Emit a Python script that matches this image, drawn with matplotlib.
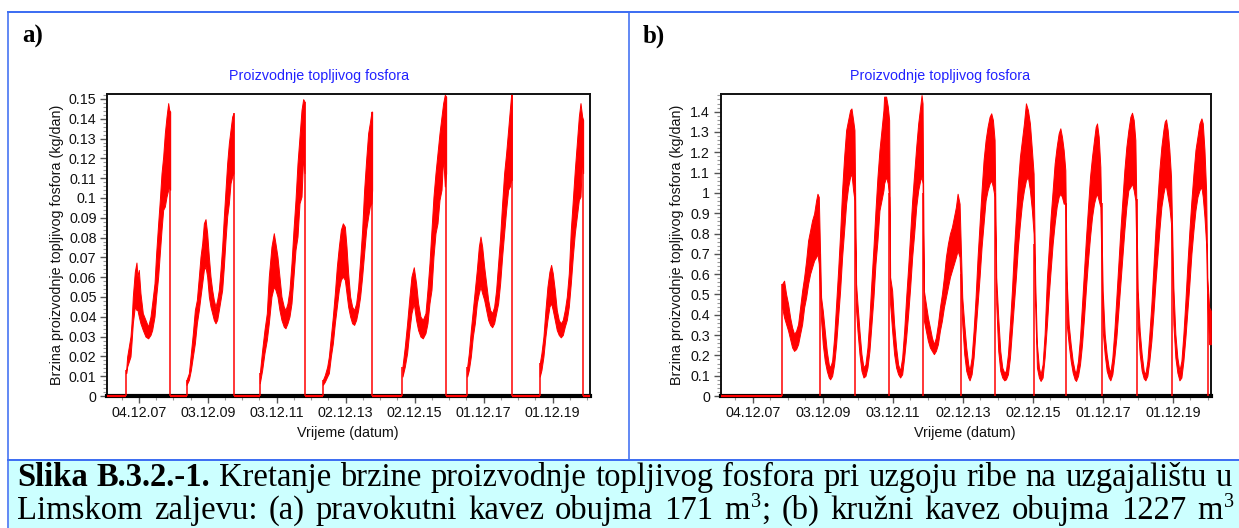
import datetime as dt
import numpy as np
import matplotlib
matplotlib.use("Agg")
import matplotlib.pyplot as plt
import matplotlib.dates as mdates
from matplotlib.ticker import FixedLocator, FixedFormatter, MultipleLocator, FuncFormatter
from matplotlib.lines import Line2D
from matplotlib.patches import Rectangle

plt.rcParams["font.family"] = ["Liberation Sans", "DejaVu Sans"]
SERIF = ["Liberation Serif", "DejaVu Serif"]

FIG_W, FIG_H = 1239, 528

# ---------------------------------------------------------------- data
# time in decimal years, production rate in kg/day
TIME_RANGE = (2007.0, 2021.0)
TICK_LABELS = ["04.12.07", "03.12.09", "03.12.11", "02.12.13",
               "02.12.15", "01.12.17", "01.12.19"]
TITLE = "Proizvodnje topljivog fosfora"
Y_LABEL = "Brzina proizvodnje topljivog fosfora (kg/dan)"
X_LABEL = "Vrijeme (datum)"

# (a) rectangular cage: one growing cycle per farming period (lower/upper band)
a1_t = [2007.556, 2007.585, 2007.681, 2007.710, 2007.749, 2007.807, 2007.855, 2007.884, 2007.923,
        2007.971, 2008.039, 2008.116, 2008.193, 2008.261, 2008.309, 2008.377, 2008.425, 2008.483,
        2008.531, 2008.580, 2008.628, 2008.676, 2008.725, 2008.773, 2008.802, 2008.831]
a1_hi = [0.0131, 0.0199, 0.0300, 0.0367, 0.0502, 0.0628, 0.0674, 0.0603, 0.0637, 0.0519, 0.0418,
         0.0384, 0.0350, 0.0401, 0.0468, 0.0569, 0.0721, 0.0872, 0.0990, 0.1125, 0.1209, 0.1327,
         0.1411, 0.1479, 0.1445, 0.1436]
a1_lo = [0.0115, 0.0148, 0.0199, 0.0266, 0.0367, 0.0451, 0.0434, 0.0434, 0.0401, 0.0367, 0.0333,
         0.0300, 0.0291, 0.0308, 0.0333, 0.0401, 0.0502, 0.0603, 0.0721, 0.0839, 0.0940, 0.0957,
         0.1007, 0.1041, 0.1058, 0.1041]

a2_t = [2009.304, 2009.372, 2009.430, 2009.488, 2009.546, 2009.604, 2009.662, 2009.710, 2009.759,
        2009.807, 2009.855, 2009.903, 2009.952, 2010.000, 2010.048, 2010.096, 2010.145, 2010.193,
        2010.242, 2010.290, 2010.338, 2010.387, 2010.435, 2010.483, 2010.532, 2010.580, 2010.628,
        2010.667]
a2_hi = [0.0081, 0.0115, 0.0216, 0.0317, 0.0434, 0.0485, 0.0603, 0.0704, 0.0771, 0.0872, 0.0893,
         0.0822, 0.0704, 0.0603, 0.0536, 0.0485, 0.0451, 0.0485, 0.0536, 0.0637, 0.0754, 0.0906,
         0.1041, 0.1175, 0.1276, 0.1344, 0.1411, 0.1428]
a2_lo = [0.0056, 0.0081, 0.0131, 0.0199, 0.0266, 0.0367, 0.0434, 0.0502, 0.0569, 0.0637, 0.0653,
         0.0603, 0.0502, 0.0451, 0.0418, 0.0384, 0.0367, 0.0384, 0.0434, 0.0485, 0.0536, 0.0653,
         0.0788, 0.0906, 0.0973, 0.1074, 0.1108, 0.1125]

a3_t = [2011.430, 2011.498, 2011.565, 2011.633, 2011.691, 2011.768, 2011.836, 2011.884, 2011.942,
        2012.000, 2012.058, 2012.125, 2012.174, 2012.232, 2012.290, 2012.348, 2012.406, 2012.464,
        2012.522, 2012.580, 2012.638, 2012.686, 2012.725]
a3_hi = [0.0115, 0.0232, 0.0333, 0.0418, 0.0603, 0.0754, 0.0822, 0.0771, 0.0704, 0.0603, 0.0502,
         0.0451, 0.0434, 0.0468, 0.0536, 0.0670, 0.0839, 0.0990, 0.1175, 0.1310, 0.1445, 0.1499,
         0.1487]
a3_lo = [0.0064, 0.0131, 0.0216, 0.0283, 0.0367, 0.0502, 0.0552, 0.0536, 0.0502, 0.0434, 0.0384,
         0.0350, 0.0342, 0.0367, 0.0401, 0.0468, 0.0603, 0.0738, 0.0805, 0.0973, 0.1007, 0.1209,
         0.1125]

a4_t = [2013.256, 2013.314, 2013.382, 2013.430, 2013.488, 2013.546, 2013.604, 2013.662, 2013.720,
        2013.778, 2013.836, 2013.894, 2013.942, 2013.990, 2014.048, 2014.106, 2014.164, 2014.222,
        2014.280, 2014.338, 2014.396, 2014.454, 2014.512, 2014.570, 2014.618, 2014.667, 2014.686]
a4_hi = [0.0081, 0.0106, 0.0148, 0.0199, 0.0300, 0.0401, 0.0519, 0.0653, 0.0754, 0.0839, 0.0872,
         0.0855, 0.0754, 0.0620, 0.0502, 0.0451, 0.0434, 0.0468, 0.0552, 0.0687, 0.0839, 0.1041,
         0.1192, 0.1327, 0.1378, 0.1436, 0.1436]
a4_lo = [0.0056, 0.0072, 0.0098, 0.0115, 0.0199, 0.0266, 0.0367, 0.0451, 0.0536, 0.0586, 0.0603,
         0.0586, 0.0519, 0.0451, 0.0401, 0.0367, 0.0359, 0.0384, 0.0434, 0.0502, 0.0603, 0.0721,
         0.0839, 0.0906, 0.0957, 0.0973, 0.1041]

a5_t = [2015.565, 2015.633, 2015.700, 2015.768, 2015.826, 2015.894, 2015.961, 2016.019, 2016.087,
        2016.155, 2016.232, 2016.290, 2016.348, 2016.406, 2016.464, 2016.522, 2016.580, 2016.638,
        2016.696, 2016.744, 2016.792, 2016.831]
a5_hi = [0.0148, 0.0249, 0.0367, 0.0502, 0.0603, 0.0650, 0.0569, 0.0468, 0.0401, 0.0384, 0.0418,
         0.0536, 0.0670, 0.0839, 0.1007, 0.1125, 0.1226, 0.1327, 0.1411, 0.1479, 0.1521, 0.1512]
a5_lo = [0.0098, 0.0148, 0.0216, 0.0333, 0.0418, 0.0468, 0.0384, 0.0333, 0.0300, 0.0291, 0.0317,
         0.0367, 0.0468, 0.0536, 0.0704, 0.0822, 0.0872, 0.0990, 0.1041, 0.1209, 0.1058, 0.1125]

a6_t = [2017.440, 2017.488, 2017.546, 2017.604, 2017.662, 2017.720, 2017.778, 2017.826, 2017.875,
        2017.933, 2017.991, 2018.049, 2018.106, 2018.164, 2018.222, 2018.280, 2018.338, 2018.396,
        2018.454, 2018.512, 2018.570, 2018.628, 2018.677, 2018.715, 2018.735]
a6_hi = [0.0148, 0.0216, 0.0333, 0.0434, 0.0536, 0.0637, 0.0754, 0.0805, 0.0754, 0.0653, 0.0569,
         0.0485, 0.0434, 0.0418, 0.0451, 0.0536, 0.0670, 0.0805, 0.0973, 0.1125, 0.1226, 0.1344,
         0.1445, 0.1521, 0.1521]
a6_lo = [0.0098, 0.0131, 0.0199, 0.0300, 0.0367, 0.0468, 0.0519, 0.0552, 0.0519, 0.0485, 0.0434,
         0.0384, 0.0359, 0.0347, 0.0367, 0.0418, 0.0468, 0.0569, 0.0704, 0.0822, 0.0940, 0.1041,
         0.1058, 0.1091, 0.1091]

a7_t = [2019.546, 2019.594, 2019.652, 2019.710, 2019.768, 2019.826, 2019.875, 2019.923, 2019.981,
        2020.039, 2020.097, 2020.155, 2020.213, 2020.271, 2020.329, 2020.387, 2020.445, 2020.503,
        2020.561, 2020.619, 2020.677, 2020.725, 2020.773, 2020.802]
a7_hi = [0.0165, 0.0216, 0.0300, 0.0434, 0.0552, 0.0628, 0.0662, 0.0620, 0.0536, 0.0434, 0.0384,
         0.0367, 0.0384, 0.0434, 0.0502, 0.0620, 0.0839, 0.0990, 0.1142, 0.1276, 0.1411, 0.1479,
         0.1411, 0.1394]
a7_lo = [0.0098, 0.0131, 0.0199, 0.0300, 0.0384, 0.0451, 0.0468, 0.0434, 0.0384, 0.0333, 0.0308,
         0.0296, 0.0308, 0.0350, 0.0384, 0.0451, 0.0569, 0.0704, 0.0822, 0.0906, 0.0990, 0.1007,
         0.1209, 0.1125]

# (b) circular cage: continuous production after stocking, short harvest drops to zero
b_start = 2008.757
b_t = [2008.757, 2008.814, 2008.871, 2008.929, 2008.986, 2009.043, 2009.100, 2009.157, 2009.214, 2009.271,
       2009.329, 2009.386, 2009.443, 2009.500, 2009.557, 2009.614, 2009.671, 2009.729, 2009.767, 2009.805,
       2009.871, 2009.919, 2009.976, 2010.033, 2010.090, 2010.129, 2010.186, 2010.243, 2010.300, 2010.357,
       2010.414, 2010.471, 2010.529, 2010.586, 2010.643, 2010.700, 2010.738, 2010.786, 2010.824,
       2010.871, 2010.910, 2010.967, 2011.024, 2011.081, 2011.138, 2011.195, 2011.252, 2011.310, 2011.367,
       2011.424, 2011.481, 2011.538, 2011.595, 2011.652, 2011.671, 2011.728, 2011.776, 2011.814,
       2011.843, 2011.900, 2011.957, 2012.014, 2012.071, 2012.128, 2012.186, 2012.243, 2012.300, 2012.357,
       2012.414, 2012.471, 2012.528, 2012.586, 2012.643, 2012.700, 2012.738, 2012.767,
       2012.805, 2012.862, 2012.919, 2012.976, 2013.033, 2013.090, 2013.147, 2013.205, 2013.262, 2013.319,
       2013.376, 2013.433, 2013.490, 2013.548, 2013.605, 2013.662, 2013.719, 2013.767, 2013.824,
       2013.900, 2013.957, 2014.014, 2014.071, 2014.109, 2014.167, 2014.224, 2014.281, 2014.338, 2014.395,
       2014.452, 2014.509, 2014.567, 2014.624, 2014.681, 2014.728, 2014.776, 2014.824,
       2014.871, 2014.928, 2014.986, 2015.043, 2015.100, 2015.148, 2015.205, 2015.262, 2015.319, 2015.376,
       2015.433, 2015.490, 2015.548, 2015.605, 2015.662, 2015.719, 2015.776, 2015.833, 2015.890, 2015.938,
       2015.986, 2016.033, 2016.090, 2016.138, 2016.195, 2016.252, 2016.319, 2016.366, 2016.423, 2016.481,
       2016.538, 2016.595, 2016.652, 2016.700, 2016.747, 2016.795, 2016.842,
       2016.881, 2016.938, 2016.995, 2017.052, 2017.109, 2017.147, 2017.204, 2017.261, 2017.319, 2017.376,
       2017.433, 2017.490, 2017.547, 2017.604, 2017.661, 2017.709, 2017.747, 2017.795, 2017.842,
       2017.909, 2017.966, 2018.023, 2018.081, 2018.128, 2018.185, 2018.242, 2018.300, 2018.357, 2018.414,
       2018.471, 2018.528, 2018.585, 2018.642, 2018.700, 2018.747, 2018.795, 2018.842,
       2018.909, 2018.966, 2019.023, 2019.081, 2019.128, 2019.185, 2019.242, 2019.300, 2019.357, 2019.414,
       2019.471, 2019.528, 2019.585, 2019.642, 2019.681, 2019.719, 2019.766, 2019.814, 2019.861,
       2019.928, 2019.985, 2020.042, 2020.100, 2020.157, 2020.214, 2020.271, 2020.328, 2020.385, 2020.442,
       2020.500, 2020.557, 2020.614, 2020.671, 2020.728, 2020.766, 2020.814, 2020.861, 2020.895,
       2020.947, 2020.995]
b_lo = [0.436, 0.387, 0.354, 0.321, 0.280, 0.239, 0.222, 0.231, 0.255, 0.305,
        0.354, 0.436, 0.486, 0.552, 0.601, 0.634, 0.667, 0.684, 0.700, 0.651,
        0.371, 0.255, 0.173, 0.124, 0.091, 0.082, 0.099, 0.156, 0.255, 0.387,
        0.519, 0.684, 0.815, 0.947, 1.029, 1.079, 1.095, 1.013, 0.963,
        0.420, 0.321, 0.206, 0.124, 0.091, 0.099, 0.140, 0.222, 0.354, 0.486,
        0.651, 0.766, 0.914, 0.963, 1.013, 1.046, 1.079, 1.046, 0.980,
        0.453, 0.321, 0.206, 0.140, 0.107, 0.091, 0.107, 0.189, 0.288, 0.404,
        0.535, 0.684, 0.799, 0.931, 1.013, 1.062, 1.079, 1.046,
        0.371, 0.321, 0.272, 0.239, 0.222, 0.206, 0.222, 0.255, 0.321, 0.371,
        0.436, 0.486, 0.535, 0.585, 0.618, 0.651, 0.684, 0.716, 0.684,
        0.354, 0.206, 0.124, 0.091, 0.077, 0.107, 0.189, 0.321, 0.453, 0.585,
        0.733, 0.848, 0.963, 1.013, 1.046, 1.062, 1.029, 0.980,
        0.453, 0.222, 0.124, 0.091, 0.077, 0.082, 0.107, 0.189, 0.321, 0.453,
        0.585, 0.733, 0.848, 0.947, 1.013, 1.062, 1.079, 1.013, 0.914, 0.799,
        0.420, 0.140, 0.091, 0.074, 0.091, 0.189, 0.354, 0.486, 0.618, 0.749,
        0.848, 0.931, 0.980, 0.996, 0.980, 0.947, 0.947,
        0.354, 0.255, 0.173, 0.115, 0.082, 0.074, 0.099, 0.156, 0.255, 0.387,
        0.535, 0.667, 0.782, 0.881, 0.947, 0.980, 0.996, 0.963, 0.931,
        0.321, 0.206, 0.124, 0.091, 0.077, 0.107, 0.189, 0.288, 0.420, 0.552,
        0.684, 0.815, 0.931, 1.013, 1.029, 1.046, 1.013, 0.963,
        0.354, 0.206, 0.124, 0.087, 0.077, 0.099, 0.173, 0.272, 0.404, 0.552,
        0.684, 0.815, 0.931, 0.996, 1.029, 1.029, 0.980, 0.931, 0.848,
        0.354, 0.189, 0.115, 0.077, 0.091, 0.173, 0.288, 0.420, 0.552, 0.700,
        0.815, 0.914, 0.980, 1.013, 1.029, 0.980, 0.881, 0.749, 0.436,
        0.255, 0.255]
b_hi = [0.552, 0.568, 0.502, 0.453, 0.387, 0.338, 0.305, 0.321, 0.354, 0.436,
        0.519, 0.585, 0.667, 0.766, 0.815, 0.865, 0.898, 0.963, 0.996, 0.980,
        0.486, 0.420, 0.321, 0.222, 0.156, 0.140, 0.173, 0.288, 0.453, 0.618,
        0.799, 1.013, 1.178, 1.309, 1.359, 1.408, 1.416, 1.359, 1.309,
        0.552, 0.453, 0.321, 0.206, 0.140, 0.156, 0.239, 0.387, 0.568, 0.733,
        0.914, 1.079, 1.211, 1.309, 1.408, 1.474, 1.474, 1.425, 1.359,
        0.585, 0.519, 0.354, 0.239, 0.156, 0.124, 0.189, 0.321, 0.486, 0.634,
        0.799, 0.963, 1.095, 1.227, 1.342, 1.425, 1.482, 1.441,
        0.519, 0.453, 0.387, 0.338, 0.288, 0.255, 0.288, 0.354, 0.436, 0.502,
        0.585, 0.684, 0.749, 0.799, 0.832, 0.881, 0.931, 0.996, 0.947,
        0.486, 0.354, 0.239, 0.156, 0.124, 0.189, 0.321, 0.486, 0.684, 0.848,
        1.013, 1.161, 1.260, 1.326, 1.375, 1.392, 1.359, 1.260,
        0.585, 0.387, 0.222, 0.140, 0.115, 0.124, 0.206, 0.354, 0.519, 0.716,
        0.881, 1.046, 1.178, 1.260, 1.342, 1.441, 1.408, 1.342, 1.211, 1.095,
        0.552, 0.255, 0.140, 0.107, 0.156, 0.305, 0.585, 0.716, 0.881, 1.013,
        1.145, 1.227, 1.293, 1.318, 1.276, 1.211, 1.112,
        0.568, 0.354, 0.255, 0.173, 0.124, 0.115, 0.173, 0.288, 0.453, 0.618,
        0.782, 0.931, 1.079, 1.178, 1.260, 1.326, 1.342, 1.276, 1.128,
        0.519, 0.305, 0.206, 0.140, 0.115, 0.189, 0.321, 0.486, 0.651, 0.815,
        0.963, 1.112, 1.227, 1.309, 1.375, 1.395, 1.359, 1.260,
        0.519, 0.321, 0.206, 0.124, 0.107, 0.173, 0.305, 0.453, 0.634, 0.815,
        0.963, 1.112, 1.227, 1.309, 1.351, 1.362, 1.309, 1.211, 1.079,
        0.535, 0.305, 0.189, 0.124, 0.173, 0.305, 0.469, 0.651, 0.815, 0.963,
        1.095, 1.211, 1.276, 1.342, 1.367, 1.342, 1.211, 1.013, 0.585,
        0.436, 0.420]
b_drop_t = [2009.833, 2010.833, 2011.824, 2012.776, 2013.871, 2014.843,
            2015.957, 2016.861, 2017.890, 2018.880, 2019.900, 2020.909]
b_drop_top = [0.70, 1.00, 1.00, 1.00, 0.60, 1.00, 0.75, 0.95, 0.95, 0.97, 0.85, 0.50]

CAPTION_BOLD = "Slika B.3.2.-1."
CAPTION_LINE1 = ("Kretanje brzine proizvodnje topljivog fosfora pri uzgoju ribe "
                 "na uzgajalištu u")
# alternating normal text / superscript pieces
CAPTION_LINE2 = ["Limskom zaljevu: (a) pravokutni kavez obujma 171 m", "3",
                 "; (b) kružni kavez obujma 1227 m", "3"]

# ---------------------------------------------------------------- helpers
RED = "#ff0000"
BLUE_RULE = "#3f6ff2"
TITLE_BLUE = "#2222ff"


def to_num(years):
    out = []
    for y in np.atleast_1d(years):
        yr = int(np.floor(y))
        start = dt.datetime(yr, 1, 1)
        span = dt.datetime(yr + 1, 1, 1) - start
        out.append(mdates.date2num(start + span * float(y - yr)))
    return np.array(out)


def fx(px):
    return px / FIG_W


def fy(py):
    return 1.0 - py / FIG_H


major_pos = np.array([mdates.date2num(dt.datetime.strptime(s, "%d.%m.%y")) for s in TICK_LABELS])
step = (major_pos[1] - major_pos[0]) / 4.0
xlim = to_num(TIME_RANGE)
minor_pos = np.arange(major_pos[0] - 4 * step, major_pos[-1] + 5 * step, step)
minor_pos = minor_pos[(minor_pos > xlim[0]) & (minor_pos < xlim[1])]


def style_axis(ax, ymax, ymajor, yminor):
    ax.set_xlim(*xlim)
    ax.set_ylim(0, ymax)
    ax.xaxis.set_major_locator(FixedLocator(major_pos))
    ax.xaxis.set_major_formatter(FixedFormatter(TICK_LABELS))
    ax.xaxis.set_minor_locator(FixedLocator(minor_pos))
    ax.yaxis.set_major_locator(MultipleLocator(ymajor))
    ax.yaxis.set_minor_locator(MultipleLocator(yminor))
    ax.yaxis.set_major_formatter(FuncFormatter(lambda v, p: f"{v:g}"))
    for s in ("top", "right", "left"):
        ax.spines[s].set_linewidth(1.4)
        ax.spines[s].set_color("#111111")
    ax.spines["bottom"].set_linewidth(3.0)
    ax.spines["bottom"].set_color("#000000")
    ax.tick_params(which="major", direction="out", length=5, width=1.0, color="#555555",
                   labelsize=10.3, pad=2.5, labelcolor="#111111")
    ax.tick_params(which="minor", direction="out", length=3, width=0.8, color="#999999")


def red_line(ax, xs, ys, lw=1.1):
    ax.plot(xs, ys, color=RED, lw=lw, solid_capstyle="butt", clip_on=False, zorder=4)


# ---------------------------------------------------------------- figure
fig = plt.figure(figsize=(FIG_W / 100, FIG_H / 100), dpi=100)

# panel frames and caption band
fig.patches.append(Rectangle((fx(9), 0), 1 - fx(9), fy(460.5), transform=fig.transFigure,
                             facecolor="#ccffff", edgecolor="none", zorder=0))
rules = [((8, 1239), (12, 12), 2.0), ((8, 8), (12, 528), 1.6), ((628.5, 628.5), (12, 459.5), 1.6),
         ((8, 1239), (459.5, 459.5), 2.0)]
for xs, ys, w in rules:
    fig.add_artist(Line2D([fx(x) for x in xs], [fy(y) for y in ys], transform=fig.transFigure,
                          color=BLUE_RULE, lw=w * 0.72, zorder=1))

ax_a = fig.add_axes([fx(107), fy(396), fx(590) - fx(107), fy(94) - fy(396)])
ax_b = fig.add_axes([fx(720.5), fy(396), fx(1211) - fx(720.5), fy(94) - fy(396)])

style_axis(ax_a, 0.1525, 0.01, 0.002)
style_axis(ax_b, 1.487, 0.1, 0.02)

# panel (a): separate cycles
cycles = [(a1_t, a1_lo, a1_hi), (a2_t, a2_lo, a2_hi), (a3_t, a3_lo, a3_hi), (a4_t, a4_lo, a4_hi),
          (a5_t, a5_lo, a5_hi), (a6_t, a6_lo, a6_hi), (a7_t, a7_lo, a7_hi)]
prev_end = xlim[0]
for t, lo, hi in cycles:
    x = to_num(t)
    ax_a.fill_between(x, lo, hi, color=RED, lw=0.7, edgecolor=RED, zorder=3)
    red_line(ax_a, [prev_end, x[0]], [0, 0], lw=1.6)
    red_line(ax_a, [x[0], x[0]], [0, hi[0]])
    red_line(ax_a, [x[-1], x[-1]], [hi[-1], 0])
    prev_end = x[-1]
red_line(ax_a, [prev_end, xlim[1]], [0, 0], lw=1.6)

# panel (b): continuous series with harvest drops
xb = to_num(b_t)
ax_b.fill_between(xb, b_lo, b_hi, color=RED, lw=0.7, edgecolor=RED, zorder=3)
x0 = to_num([b_start])[0]
red_line(ax_b, [xlim[0], x0], [0, 0], lw=1.6)
red_line(ax_b, [x0, x0], [0, b_hi[0]])
for t, top in zip(to_num(b_drop_t), b_drop_top):
    red_line(ax_b, [t, t], [0, top])

# titles and axis labels
for cx, cx_lab, ylab_x in ((319, 348, 57), (940, 965, 677)):
    fig.text(fx(cx), fy(76), TITLE, color=TITLE_BLUE, fontsize=10.3, ha="center", va="center")
    fig.text(fx(cx_lab), fy(433), X_LABEL, color="#111111", fontsize=10.3, ha="center", va="center")
    fig.text(fx(ylab_x), fy(245), Y_LABEL, color="#111111", fontsize=10.3, rotation=90,
             ha="center", va="center")

fig.text(fx(22), fy(43), "a)", family=SERIF, fontweight="bold", fontsize=18, ha="left", va="baseline")
fig.text(fx(643), fy(43), "b)", family=SERIF, fontweight="bold", fontsize=18, ha="left", va="baseline")

# caption: two justified lines
CAP_SIZE = 23.5
SUP_SIZE = CAP_SIZE * 0.62
renderer = fig.canvas.get_renderer()


def make_text(s, weight="normal", size=CAP_SIZE):
    return fig.text(0, 0, s, family=SERIF, fontweight=weight, fontsize=size,
                    ha="left", va="baseline", color="black")


def justify(tokens, left, right, baseline):
    # each token is a list of (text, weight, superscript) pieces without spaces
    built = []
    for tok in tokens:
        parts = []
        for s, wt, sup in tok:
            t = make_text(s, wt, SUP_SIZE if sup else CAP_SIZE)
            parts.append((t, t.get_window_extent(renderer).width, sup))
        built.append(parts)
    widths = [sum(w for _, w, _ in parts) + sum(1 for _, _, s in parts if s) for parts in built]
    gap = (right - left - sum(widths)) / (len(built) - 1)
    x = left
    for parts, w in zip(built, widths):
        px = x
        for t, pw, sup in parts:
            if sup:
                px += 1
            t.set_position((fx(px), fy(baseline - (12 if sup else 0))))
            px += pw
        x += w + gap


line1 = [[(w, "bold", False)] for w in CAPTION_BOLD.split()] + \
        [[(w, "normal", False)] for w in CAPTION_LINE1.split()]

line2 = []
for i, piece in enumerate(CAPTION_LINE2):
    if i % 2 == 1:
        line2[-1].append((piece, "normal", True))
        continue
    for j, p in enumerate(piece.split(" ")):
        if not p:
            continue
        if j == 0 and line2 and not piece.startswith(" "):
            line2[-1].append((p, "normal", False))
        else:
            line2.append([(p, "normal", False)])

justify(line1, 17.0, 1232.0, 486)
justify(line2, 17.0, 1234.0, 519)

fig.savefig("out.png", dpi=100, facecolor="white")
